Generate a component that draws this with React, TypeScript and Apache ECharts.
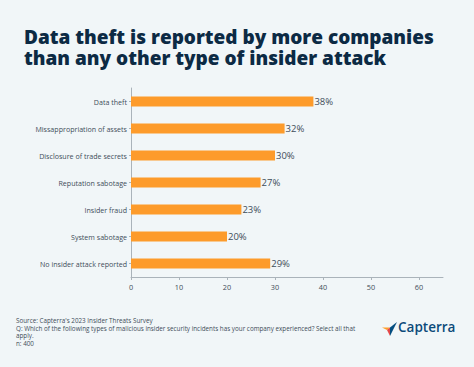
import React, { useEffect, useRef } from "react";
import * as echarts from "echarts";

const categories = [
  "Data theft",
  "Missappropriation of assets",
  "Disclosure of trade secrets",
  "Reputation sabotage",
  "Insider fraud",
  "System sabotage",
  "No insider attack reported",
];
const values = [38, 32, 30, 27, 23, 20, 29];
const xTicks = [0, 10, 20, 30, 40, 50, 60];

const titleLines = [
  "Data theft is reported by more companies",
  "than any other type of insider attack",
];
const footerText =
  "Source: Capterra's 2023 Insider Threats Survey\nQ: Which of the following types of malicious insider security incidents has your company experienced? Select all that\napply.\nn: 400";

export default function App() {
  const ref = useRef<HTMLDivElement>(null);
  useEffect(() => {
    document.body.style.margin = "0";
    const chart = echarts.init(ref.current!, null, { renderer: "svg" });
    const titleStyle = {
      fontFamily: "Open Sans",
      fontWeight: 800,
      fontSize: 19,
      lineHeight: 21,
      color: "#0c2a44",
    };
    chart.setOption({
      animation: false,
      backgroundColor: "#f1f6f8",
      textStyle: { fontFamily: "Open Sans" },
      title: [
        { text: titleLines[0], left: 24, top: 26, padding: 0, textStyle: titleStyle },
        { text: titleLines[1], left: 24, top: 47, padding: 0, textStyle: titleStyle },
      ],
      grid: { left: 131, right: 31, top: 88, bottom: 90, containLabel: false },
      xAxis: {
        type: "value",
        min: 0,
        max: 65,
        interval: 10,
        splitLine: { show: false },
        axisLine: { show: true, lineStyle: { color: "#aab3ba", width: 1 } },
        axisTick: { show: true, length: 3, lineStyle: { color: "#aab3ba" }, customValues: xTicks },
        axisLabel: {
          customValues: xTicks,
          color: "#3f4d59",
          fontSize: 7.3,
          margin: 6,
          fontFamily: "Open Sans",
        },
      },
      yAxis: {
        type: "category",
        inverse: true,
        data: categories,
        axisLine: { show: true, lineStyle: { color: "#aab3ba", width: 1 } },
        axisTick: { show: true, alignWithLabel: true, length: 2, lineStyle: { color: "#aab3ba" } },
        axisLabel: { color: "#3f4d59", fontSize: 7.1, margin: 4, fontFamily: "Open Sans" },
      },
      series: [
        {
          type: "bar",
          data: values,
          barWidth: 10,
          itemStyle: { color: "#fd9b2b" },
          label: {
            show: true,
            position: "right",
            distance: 1,
            formatter: "{c}%",
            color: "#3f4d59",
            fontSize: 9.5,
            fontFamily: "Open Sans",
          },
        },
      ],
      graphic: [
        {
          type: "text",
          left: 16,
          top: 317,
          style: {
            text: footerText,
            fontSize: 6.3,
            lineHeight: 7.5,
            fill: "#3f4d59",
            fontFamily: "Open Sans",
          },
        },
        {
          type: "polygon",
          shape: { points: [[382, 327.5], [390, 327.5], [387, 330]] },
          style: { fill: "#ff9d28" },
        },
        {
          type: "polygon",
          shape: { points: [[390, 327.5], [397, 322], [387, 330]] },
          style: { fill: "#68c5ed" },
        },
        {
          type: "polygon",
          shape: { points: [[390, 327.5], [397, 322], [390, 336]] },
          style: { fill: "#044d80" },
        },
        {
          type: "polygon",
          shape: { points: [[387, 330], [390, 327.5], [390, 336]] },
          style: { fill: "#e54747" },
        },
        {
          type: "text",
          left: 398,
          top: 320,
          style: {
            text: "Capterra",
            fontSize: 13.5,
            fontWeight: 600,
            fill: "#0b4a7a",
            fontFamily: "Open Sans",
          },
        },
      ],
    });
    return () => chart.dispose();
  }, []);
  return <div ref={ref} style={{ width: 474, height: 367 }} />;
}
